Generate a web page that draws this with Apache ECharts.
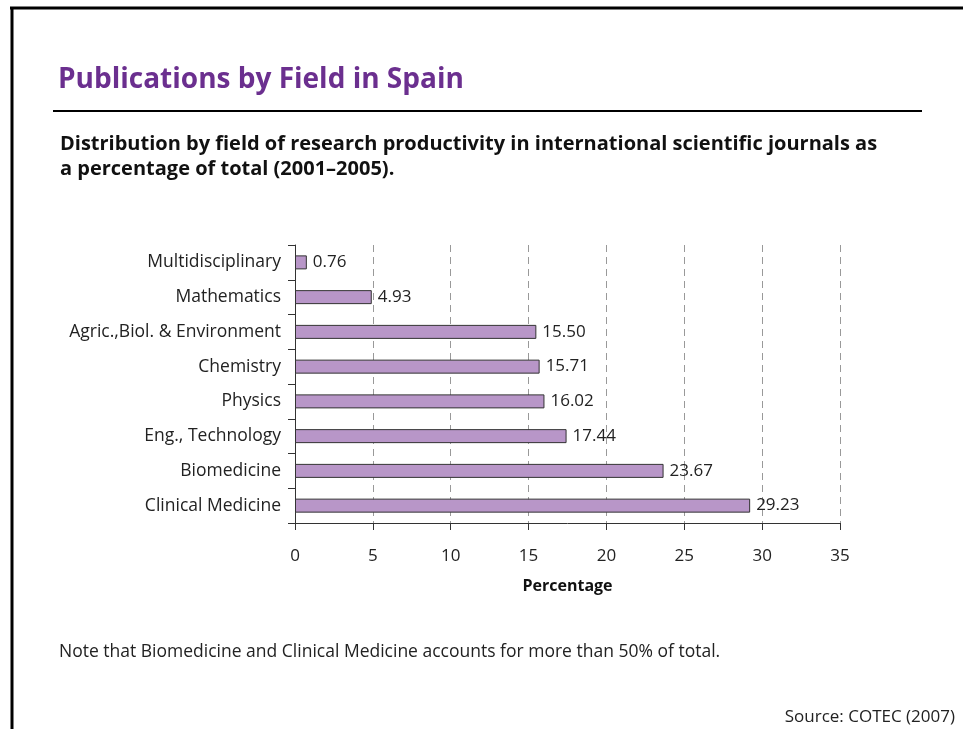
<!DOCTYPE html>
<html>
<head>
<meta charset="utf-8">
<script src="https://cdn.jsdelivr.net/npm/echarts@6/dist/echarts.min.js"></script>
<style>
  html, body { margin: 0; padding: 0; background: #fff; }
  #main { width: 963px; height: 729px; }
</style>
</head>
<body>
<div id="main"></div>
<script>
// data, bottom to top
const fields = ['Clinical Medicine', 'Biomedicine', 'Eng., Technology', 'Physics',
  'Chemistry', 'Agric.,Biol. & Environment', 'Mathematics', 'Multidisciplinary'];
const shares = [29.23, 23.67, 17.44, 16.02, 15.71, 15.50, 4.93, 0.76];
const xTicks = [0, 5, 10, 15, 20, 25, 30, 35];

const font = 'Open Sans';
const chart = echarts.init(document.getElementById('main'));

let option = {
  backgroundColor: '#fff',
  animation: false,
  title: [
    {
      text: 'Publications by Field in Spain',
      left: 53, top: 61,
      textStyle: { fontFamily: font, fontSize: 28, fontWeight: 'bold', color: '#6b2f8f' }
    },
    {
      text: 'Distribution by field of research productivity in international scientific journals as\na percentage of total (2001\u20132005).',
      left: 55, top: 127,
      textStyle: { fontFamily: font, fontSize: 20, fontWeight: 'bold', color: '#111', lineHeight: 25 }
    },
    {
      text: 'Note that Biomedicine and Clinical Medicine accounts for more than 50% of total.',
      left: 54, top: 638,
      textStyle: { fontFamily: font, fontSize: 17.5, fontWeight: 'normal', color: '#222' }
    },
    {
      text: 'Source: COTEC (2007)',
      right: 3, top: 704,
      textStyle: { fontFamily: font, fontSize: 17, fontWeight: 'normal', color: '#222' }
    }
  ],
  graphic: [
    { type: 'line', shape: { x1: 10, y1: 8, x2: 963, y2: 8 }, style: { stroke: '#000', lineWidth: 3 } },
    { type: 'line', shape: { x1: 12, y1: 7, x2: 12, y2: 729 }, style: { stroke: '#000', lineWidth: 3 } },
    { type: 'line', shape: { x1: 53, y1: 111, x2: 922, y2: 111 }, style: { stroke: '#000', lineWidth: 2 } }
  ],
  grid: { left: 295, right: 123, top: 245, bottom: 206 },
  xAxis: {
    type: 'value',
    min: 0, max: 35, interval: 5,
    name: 'Percentage',
    nameLocation: 'middle',
    nameGap: 55,
    nameTextStyle: { fontFamily: font, fontSize: 16, fontWeight: 'bold', color: '#111' },
    axisLine: { show: true, lineStyle: { color: '#333', width: 1 } },
    axisTick: { show: true, length: 7, lineStyle: { color: '#333' } },
    axisLabel: { fontFamily: font, fontSize: 17, color: '#222', margin: 25,
      formatter: v => xTicks.includes(v) ? String(v) : '' },
    splitLine: { show: true, lineStyle: { color: '#999', type: [7, 5], width: 1 } }
  },
  yAxis: {
    type: 'category',
    data: fields,
    axisLine: { show: true, lineStyle: { color: '#333', width: 1 } },
    axisTick: { show: true, length: 7, lineStyle: { color: '#333' } },
    axisLabel: { fontFamily: font, fontSize: 17.5, color: '#222', margin: 14 }
  },
  series: [
    {
      type: 'bar',
      data: shares,
      barWidth: 14,
      itemStyle: { color: '#b896c8', borderColor: '#333', borderWidth: 1 },
      label: {
        show: true, position: 'right', distance: 6,
        fontFamily: font, fontSize: 17, color: '#222',
        formatter: p => p.value.toFixed(2)
      }
    }
  ]
};
option && chart.setOption(option);
</script>
</body>
</html>
